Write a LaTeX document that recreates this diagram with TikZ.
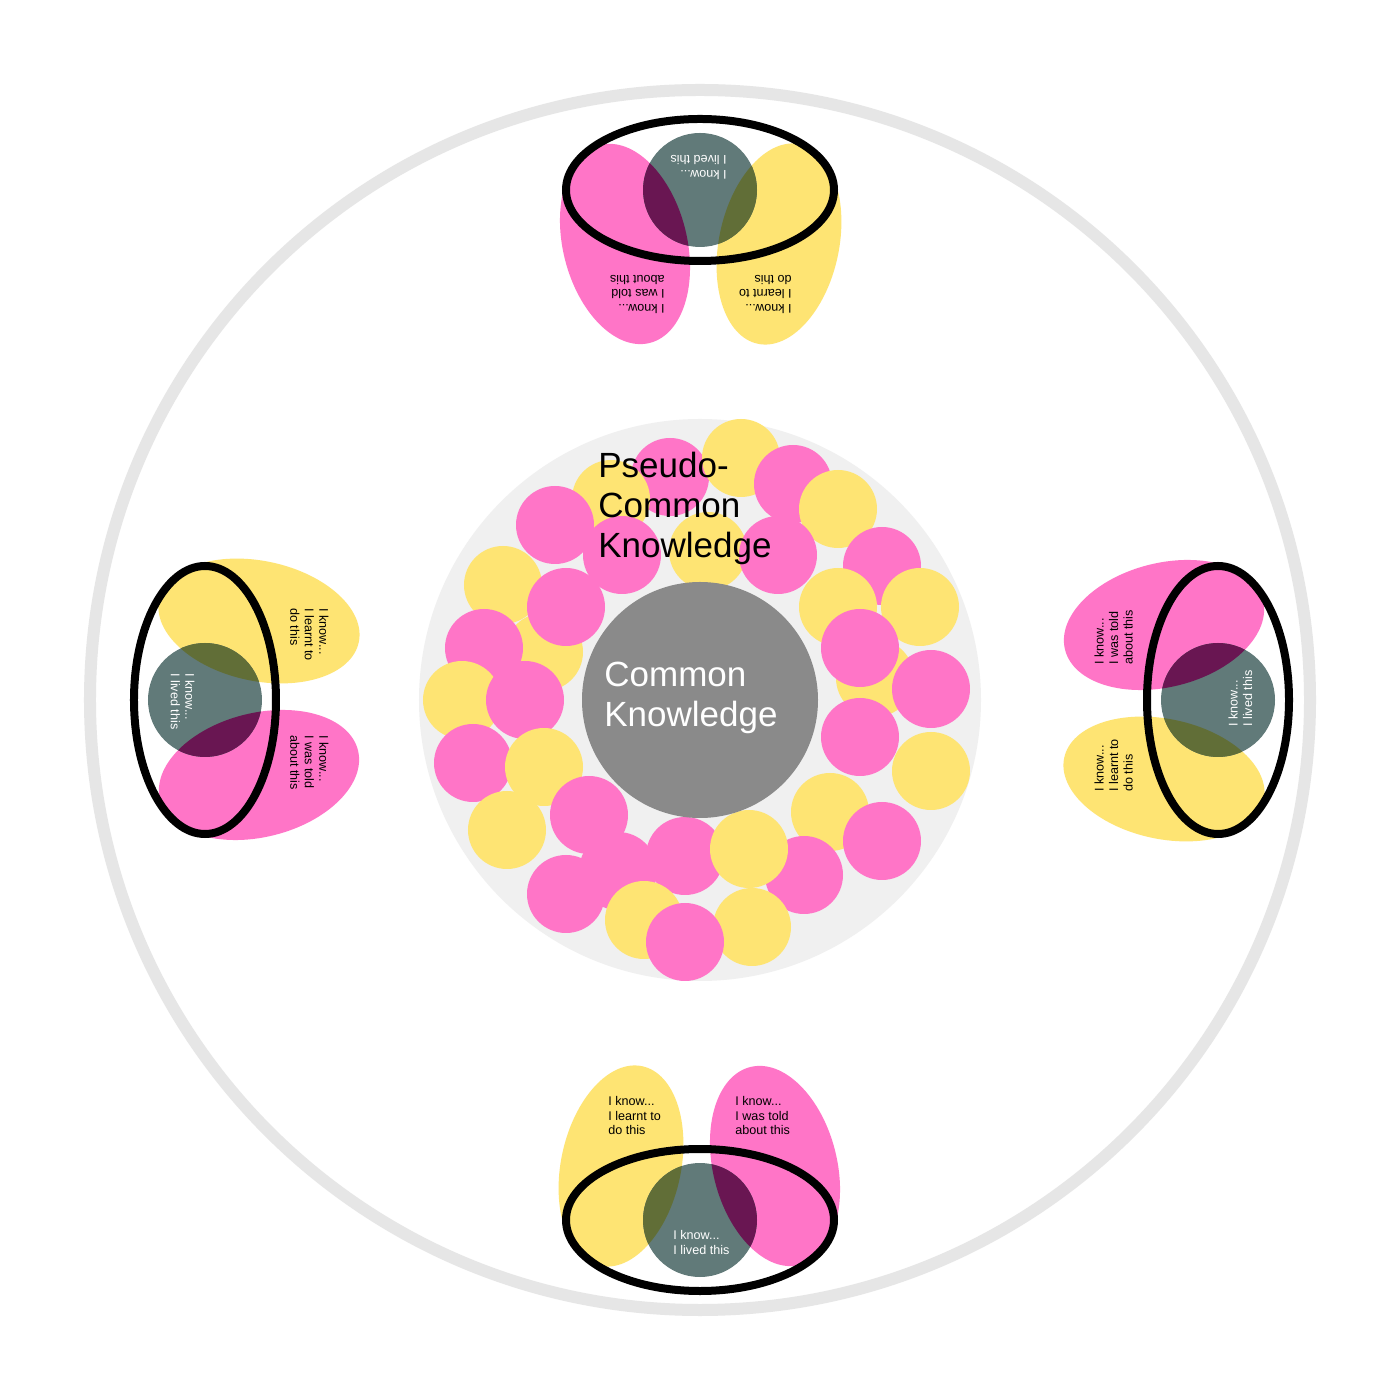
\documentclass[tikz,border=0pt]{standalone}
\usepackage{fontspec}
\setmainfont{Liberation Sans}
\definecolor{pinkk}{RGB}{255,117,199}
\definecolor{yelk}{RGB}{254,228,115}
\definecolor{tealk}{RGB}{97,122,121}
\definecolor{olivek}{RGB}{97,110,55}
\definecolor{purpk}{RGB}{105,22,82}
\definecolor{ringk}{RGB}{230,230,230}
\definecolor{discpk}{RGB}{240,240,240}
\definecolor{commonk}{RGB}{138,138,138}
\tikzset{
	small/.style={font=\fontsize{6.3}{7.3}\selectfont, align=left, inner sep=0pt, anchor=north west},
	big/.style={font=\fontsize{17.5}{20}\selectfont, align=left, inner sep=0pt, anchor=north west}
}
% one group of three kinds of knowing, drawn for the bottom and turned by #1
\newcommand{\knowgroup}[2]{
	\begin{scope}[rotate=#1, transform shape]
	\begin{scope}[shift={(0,-#2)}]
	\coordinate (lived) at (0,0);
	\coordinate (learnt) at (-79,54);
	\coordinate (told) at (75,54);
	\fill[yelk, rotate around={-12:(learnt)}] (learnt) ellipse (60 and 102);
	\fill[pinkk, rotate around={14:(told)}] (told) ellipse (62 and 102);
	\fill[tealk] (lived) circle (57);
	\begin{scope}
	\clip (lived) circle (57);
	\fill[olivek, rotate around={-12:(learnt)}] (learnt) ellipse (60 and 102);
	\fill[purpk, rotate around={14:(told)}] (told) ellipse (62 and 102);
	\end{scope}
	\draw[line width=4pt] (lived) ellipse (134 and 71);
	\node[small] (learnttext) at (-92,124) {I know...\\I learnt to\\do this};
	\node[small] (toldtext) at (35,124) {I know...\\I was told\\about this};
	\node[small, white] (livedtext) at (-27,-10) {I know...\\I lived this};
	\end{scope}
	\end{scope}
}

\begin{document}
\begin{tikzpicture}[x=0.5pt,y=0.5pt]
	\useasboundingbox (-700,-700) rectangle (700,700);
	\fill[white] (-700,-700) rectangle (700,700);
	\draw[ringk, line width=6pt] (0,0) circle (610);
	\fill[discpk] (0,0) circle (281);

	% pseudo-common knowledge bubbles, screen coordinates
	\foreach \x/\y/\c in {670/477/pinkk, 611/499/yelk, 741/458/yelk, 793/484/pinkk, 838/509/yelk,
		555/525/pinkk, 708/551/yelk, 622/555/pinkk, 778/555/pinkk, 882/566/pinkk,
		503/585/yelk, 544/652/yelk, 566/607/pinkk, 838/607/yelk, 920/607/yelk,
		875/678/yelk, 860/648/pinkk, 931/689/pinkk, 484/648/pinkk, 462/700/yelk,
		525/700/pinkk, 473/763/pinkk, 544/767/yelk, 860/737/pinkk, 931/771/yelk,
		507/830/yelk, 589/815/pinkk, 830/812/yelk, 882/841/pinkk, 618/871/pinkk,
		685/856/pinkk, 804/875/pinkk, 749/849/yelk, 566/894/pinkk, 644/920/yelk,
		752/927/yelk, 685/942/pinkk}
		\fill[\c] ({\x-700},{700-\y}) circle (39);

	\fill[commonk] (0,0) circle (118);
	\node[big] (pseudo) at (-102,248) {Pseudo-\\Common\\Knowledge};
	\node[big, white] (common) at (-96,38) {Common\\Knowledge};

	\knowgroup{0}{520}
	\knowgroup{180}{510}
	\knowgroup{-90}{495}
	\knowgroup{90}{518}
\end{tikzpicture}
\end{document}
